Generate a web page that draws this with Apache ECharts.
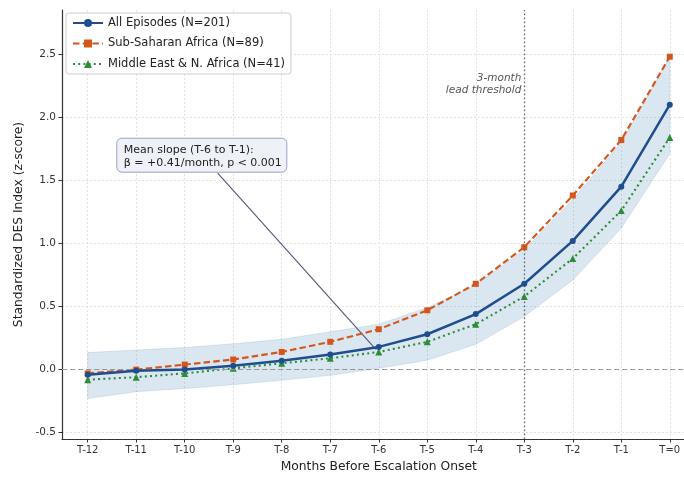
<!DOCTYPE html>
<html>
<head>
<meta charset="utf-8">
<script src="https://cdn.jsdelivr.net/npm/echarts@6/dist/echarts.min.js"></script>
<style>
html,body{margin:0;padding:0;background:#fff;}
#c{width:684px;height:477px;}
</style>
</head>
<body>
<div id="c"></div>
<script>
// ---- data ----
const months = [-12,-11,-10,-9,-8,-7,-6,-5,-4,-3,-2,-1,0];
const tickLabels = ['T-12','T-11','T-10','T-9','T-8','T-7','T-6','T-5','T-4','T-3','T-2','T-1','T=0'];
const yTicks = [-0.5,0,0.5,1.0,1.5,2.0,2.5];
const allEpisodes = [-0.04,-0.01,0.00,0.03,0.07,0.12,0.18,0.28,0.44,0.68,1.02,1.45,2.10];
const subSaharan = [-0.03,0.00,0.04,0.08,0.14,0.22,0.32,0.47,0.68,0.97,1.38,1.82,2.48];
const mena = [-0.08,-0.06,-0.03,0.01,0.05,0.09,0.14,0.22,0.36,0.58,0.88,1.26,1.84];
const bandLower = [-0.23,-0.175,-0.15,-0.12,-0.085,-0.045,0.01,0.075,0.20,0.42,0.71,1.12,1.71];
const bandUpper = [0.135,0.155,0.175,0.205,0.24,0.30,0.36,0.49,0.67,0.95,1.35,1.80,2.48];
const seriesNames = ['All Episodes (N=201)','Sub-Saharan Africa (N=89)','Middle East & N. Africa (N=41)'];
const thresholdMonth = -3;
const annotationText = ['Mean slope (T-6 to T-1):', '\u03b2 = +0.41/month, p < 0.001'];
const annotBoxAnchor = [-11.40, 1.834];   // data coords of box top-left
const arrowStart = [-9.32, 1.557];
const arrowEnd = [-6.06, 0.16];
const thresholdTextAnchor = [-3.06, 2.36];

const FONT = 'DejaVu Sans';
const X_MIN = -12.53, X_MAX = 0.53, Y_MIN = -0.55, Y_MAX = 2.85;
const pair = arr => months.map((m,i)=>[m, arr[i]]);

const chart = echarts.init(document.getElementById('c'), null, {renderer:'canvas'});

const option = {
  animation:false,
  backgroundColor:'#fff',
  textStyle:{fontFamily:FONT},
  grid:{left:62, width:633.5, top:10, bottom:38, containLabel:false, outerBoundsMode:'none'},
  legend:{
    data:seriesNames,
    orient:'vertical',
    left:66, top:13,
    itemWidth:30, itemHeight:10, itemGap:8.5,
    padding:[4,6,4,6],
    backgroundColor:'rgba(255,255,255,0.85)',
    borderColor:'#cccccc', borderWidth:1, borderRadius:3,
    textStyle:{fontFamily:FONT, fontSize:11.5, color:'#222'}
  },
  xAxis:{
    type:'value', min:X_MIN, max:X_MAX,
    name:'Months Before Escalation Onset', nameLocation:'middle', nameGap:22,
    nameTextStyle:{fontFamily:FONT, fontSize:12.3, color:'#222'},
    axisLine:{show:true, onZero:false, lineStyle:{color:'#333', width:1.2}},
    axisTick:{show:true, customValues:months, length:3.5, lineStyle:{color:'#333'}},
    axisLabel:{customValues:months, fontSize:10, color:'#333', margin:6, fontFamily:FONT,
      formatter:v=>tickLabels[months.indexOf(Math.round(v))] || ''},
    splitLine:{show:true, lineStyle:{color:'#e2e2e2', type:[2,2], width:1}}
  },
  yAxis:{
    type:'value', min:Y_MIN, max:Y_MAX,
    name:'Standardized DES Index (z-score)', nameLocation:'middle', nameGap:36, nameRotate:90,
    nameTextStyle:{fontFamily:FONT, fontSize:12.3, color:'#222'},
    axisLine:{show:true, onZero:false, lineStyle:{color:'#333', width:1.2}},
    axisTick:{show:true, customValues:yTicks, length:3.5, lineStyle:{color:'#333'}},
    axisLabel:{customValues:yTicks, fontSize:10.5, color:'#333', margin:6, fontFamily:FONT,
      formatter:v=>v.toFixed(1)},
    splitLine:{show:true, lineStyle:{color:'#e2e2e2', type:[2,2], width:1}}
  },
  series:[
    {
      name:'band', type:'custom', silent:true, z:1,
      data:[[0]],
      renderItem:function(params, api){
        const pts = [];
        for (let i=0;i<months.length;i++) pts.push(api.coord([months[i], bandUpper[i]]));
        for (let i=months.length-1;i>=0;i--) pts.push(api.coord([months[i], bandLower[i]]));
        return {type:'polygon', shape:{points:pts}, style:{fill:'rgba(70,130,180,0.2)', stroke:'rgba(70,130,180,0.25)', lineWidth:0.6}};
      },
      markLine:{
        silent:true, symbol:'none', animation:false,
        label:{show:false},
        data:[[{coord:[X_MIN,0]},{coord:[X_MAX,0]}]],
        lineStyle:{color:'#9a9a9a', type:[5,3], width:1.2}
      }
    },
    {
      name:seriesNames[1], type:'line', data:pair(subSaharan),
      symbol:'rect', symbolSize:6,
      itemStyle:{color:'#d4561a'},
      lineStyle:{color:'#d4561a', width:2.1, type:[6.5,3.2]},
      z:4
    },
    {
      name:seriesNames[2], type:'line', data:pair(mena),
      symbol:'triangle', symbolSize:7,
      itemStyle:{color:'#2e8b3a'},
      lineStyle:{color:'#2e8b3a', width:2.1, type:[2,3.2]},
      z:3,
      markLine:{
        silent:true, symbol:'none', animation:false,
        label:{show:false},
        data:[[{coord:[thresholdMonth,Y_MIN]},{coord:[thresholdMonth,Y_MAX]}]],
        lineStyle:{color:'#666', type:[1.5,2.5], width:1.3}
      }
    },
    {
      name:seriesNames[0], type:'line', data:pair(allEpisodes),
      symbol:'circle', symbolSize:6,
      itemStyle:{color:'#1f4e8f'},
      lineStyle:{color:'#1f4e8f', width:2.5},
      z:5
    }
  ]
};
chart.setOption(option);

// annotation elements positioned via the chart's own coordinate system
const px = c => chart.convertToPixel({gridIndex:0}, c);
const boxTL = px(annotBoxAnchor);
const aS = px(arrowStart), aE = px(arrowEnd);
const tT = px(thresholdTextAnchor);
chart.setOption({
  graphic:[
    {type:'line', z:2, shape:{x1:aS[0], y1:aS[1], x2:aE[0], y2:aE[1]},
      style:{stroke:'#55557a', lineWidth:1.1}},
    {type:'rect', z:10, shape:{x:boxTL[0], y:boxTL[1], width:170, height:34, r:5},
      style:{fill:'#eef1f8', stroke:'#9aa0c8', lineWidth:1}},
    {type:'text', z:11, x:boxTL[0]+7, y:boxTL[1]+5,
      style:{text:annotationText.join('\n'), font:'11px "DejaVu Sans"', fill:'#222', lineHeight:13}},
    {type:'text', z:11, x:tT[0], y:tT[1],
      style:{text:'3-month\nlead threshold', font:'italic 10.5px "DejaVu Sans"', fill:'#555', align:'right', lineHeight:12}}
  ]
});
</script>
</body>
</html>
